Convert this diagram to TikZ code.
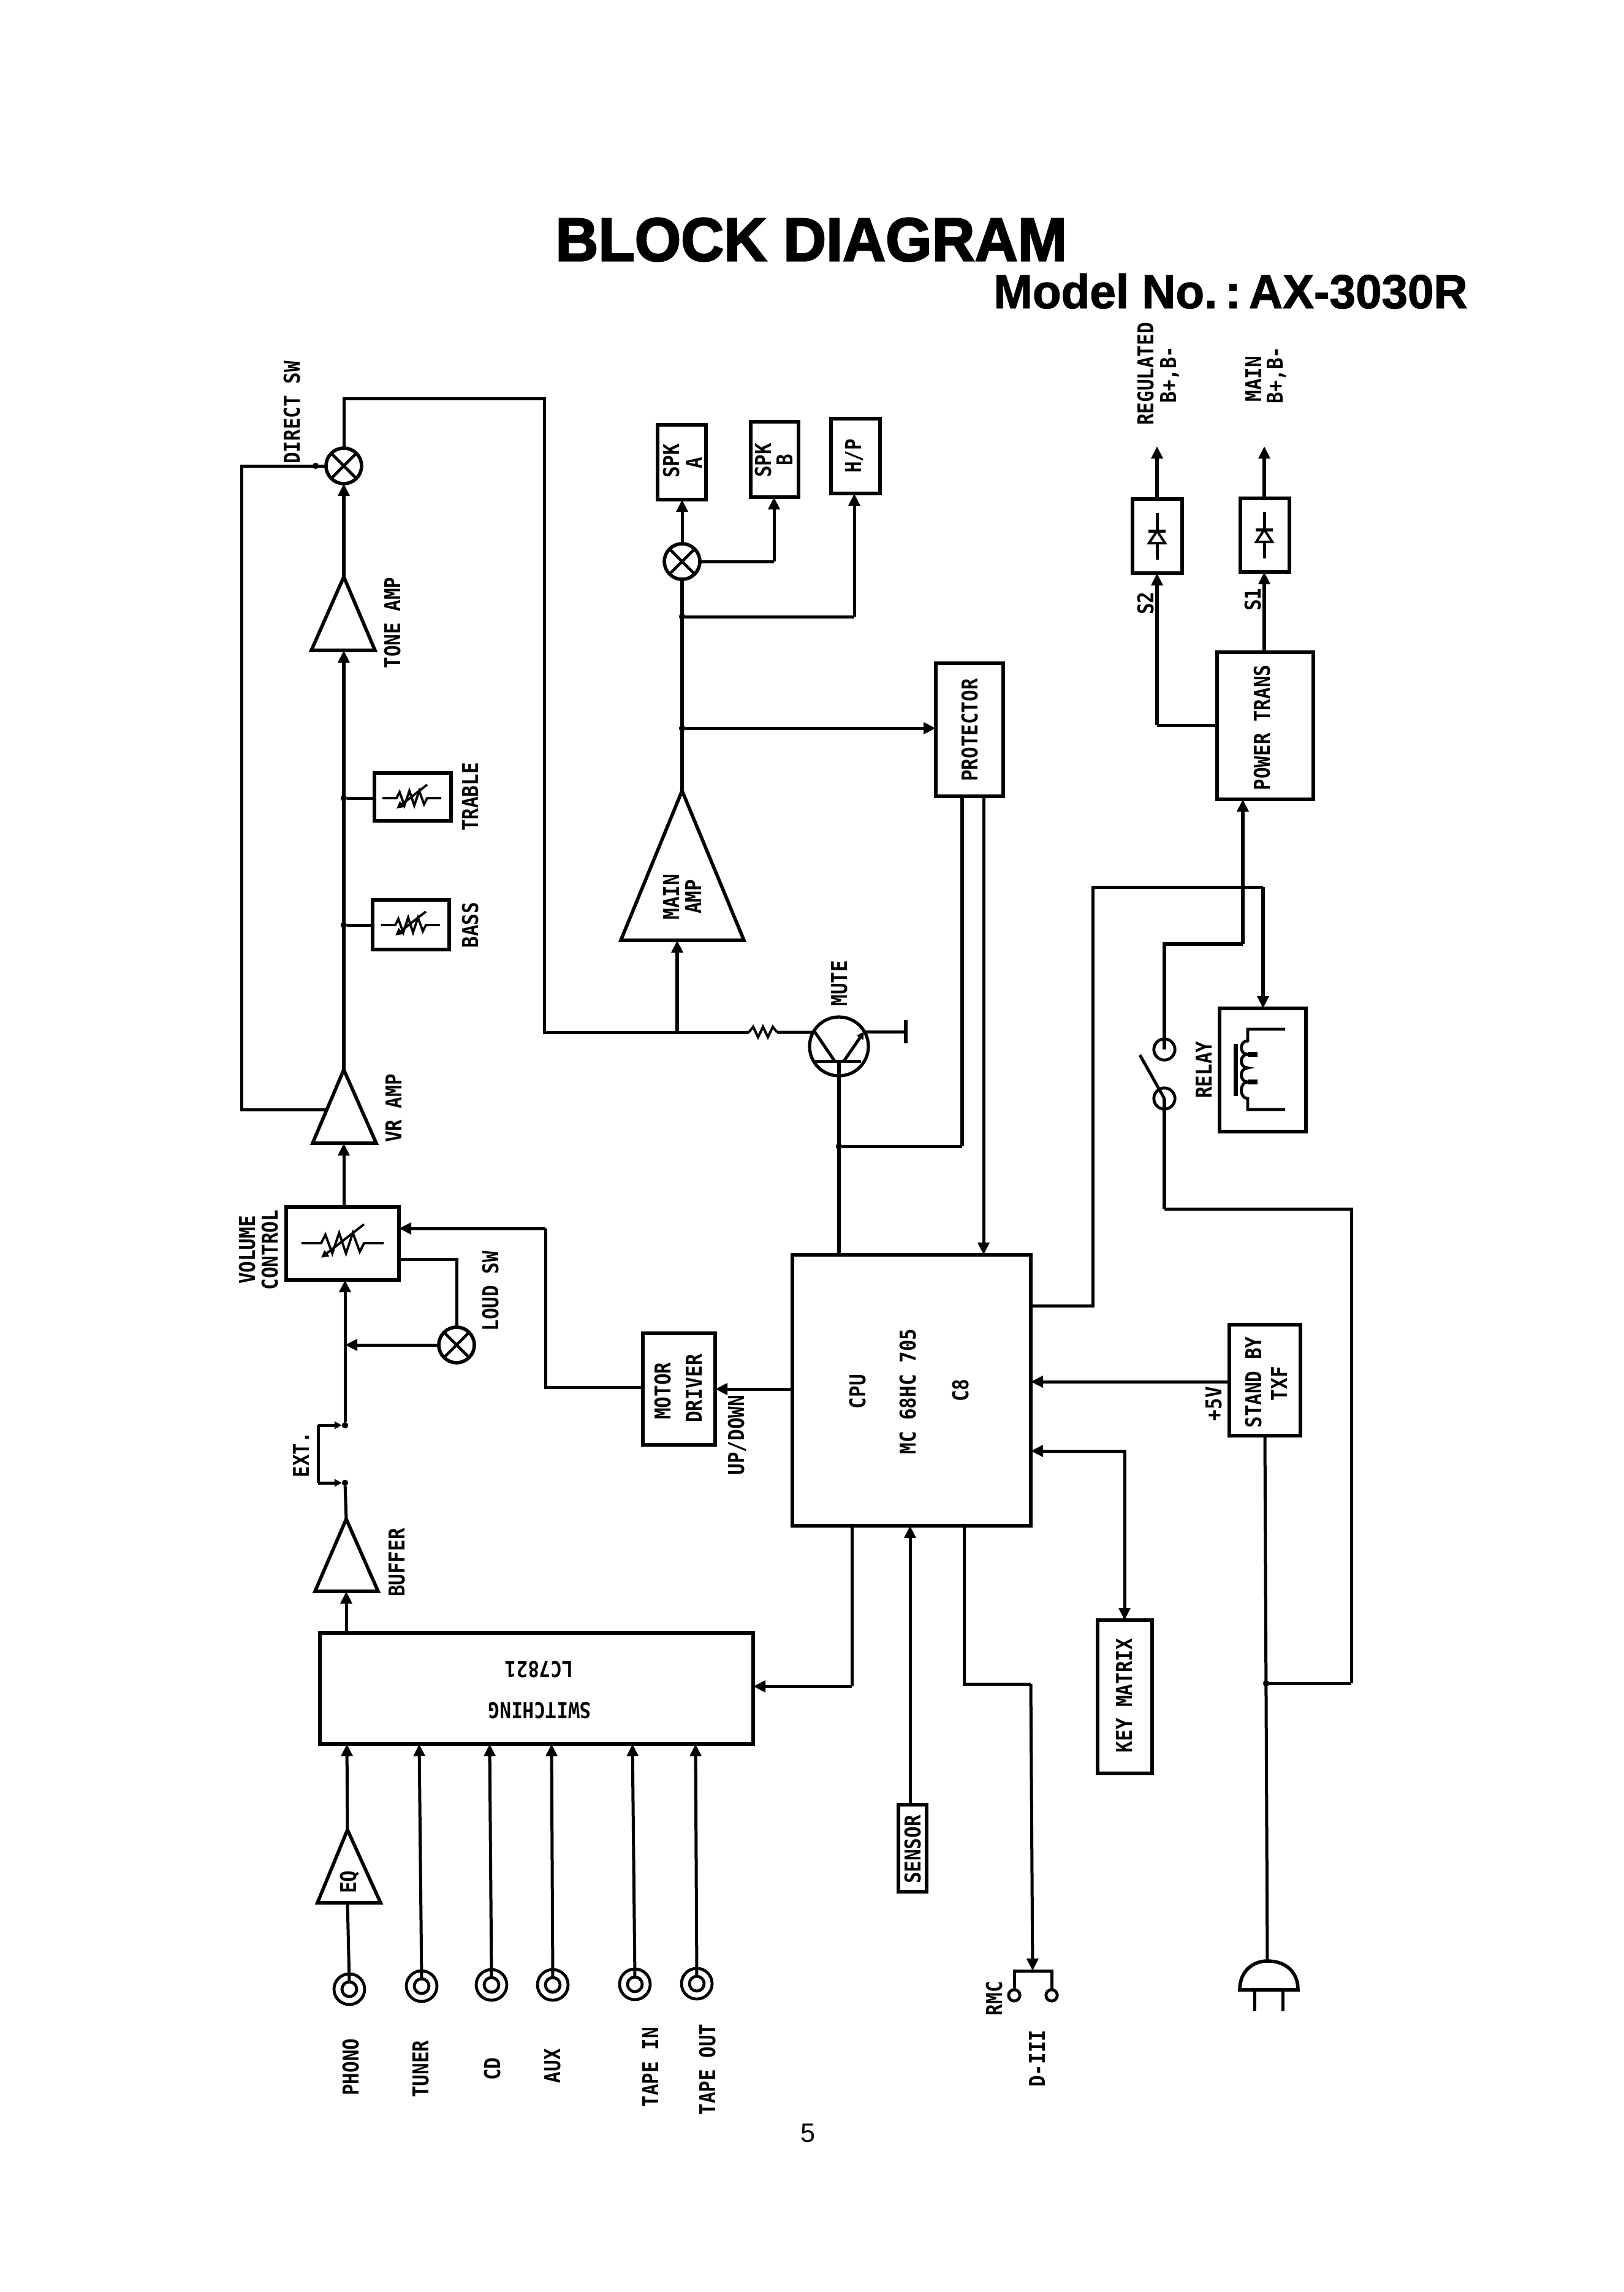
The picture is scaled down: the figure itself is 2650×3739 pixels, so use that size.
\documentclass[tikz,border=0pt]{standalone}
\usepackage{fontspec}
\usetikzlibrary{arrows.meta,fit}
\newfontfamily\plotfont[FakeStretch=0.87]{DejaVu Sans Mono}
\newfontfamily\headfont[FakeStretch=0.97,FakeBold=2.5]{Liberation Sans}
\newfontfamily\subheadfont[FakeStretch=0.98,FakeBold=1.5]{Liberation Sans}
\newfontfamily\pagefont{Liberation Sans}

% Triangular amplifier: name, apex x, apex y, base y, left x, right x
\newcommand{\ampblock}[6]{%
  \coordinate (#1-apex) at (#2,#3);
  \coordinate (#1-base) at (#2,#4);
  \draw[blk] (#1-apex) -- (#5,#4) -- (#6,#4) -- cycle;
}
% Input socket: name, x, y
\newcommand{\jackat}[3]{%
  \node[jackouter] (#1) at (#2,#3) {};
  \node[jackinner] (#1-in) at (#2,#3) {};
}

\tikzset{
  x=0.25pt, y=-0.25pt,
  blk/.style={draw, rectangle, line width=1.4pt, inner sep=0pt, outer sep=0pt, line join=miter},
  wire/.style={line width=1.25pt},
  hv/.style={line width=1.65pt},
  arr/.style={-{Triangle[length=5pt,width=4.6pt]}},
  arrs/.style={-{Triangle[length=3pt,width=3pt]}},
  both/.style={{Triangle[length=5pt,width=4.6pt]}-{Triangle[length=5pt,width=4.6pt]}},
  dot/.style={circle, fill, inner sep=0pt, outer sep=0pt, minimum size=2.6pt},
  lblbase/.style={inner sep=0pt, outer sep=0pt, text height=6.5pt, text depth=0pt,
              font=\plotfont\bfseries\fontsize{8.9}{10}\selectfont},
  lbl/.style={lblbase, rotate=90},
  lblflip/.style={lblbase, rotate=180},
  mixer/.style={circle, draw, line width=1.4pt, inner sep=0pt, outer sep=0pt, minimum size=14.5pt,
    path picture={\draw[line width=1.2pt] (path picture bounding box.center) +(-22,-22) -- +(22,22) +(-22,22) -- +(22,-22);}},
  jackouter/.style={circle, draw, line width=1.2pt, inner sep=0pt, outer sep=0pt, minimum size=12.5pt},
  jackinner/.style={circle, draw, line width=1.2pt, inner sep=0pt, outer sep=0pt, minimum size=6pt},
  contact/.style={circle, draw, line width=1.2pt, inner sep=0pt, outer sep=0pt, minimum size=8.6pt},
  rmcpin/.style={circle, draw, line width=1.2pt, inner sep=0pt, outer sep=0pt, minimum size=4.6pt},
  varres/.pic={
    \draw[line width=.95pt] (-48,0) -- (-25,0) -- (-20,-10) -- (-12,12) -- (-4,-12) -- (4,12) -- (12,-12) -- (20,10) -- (25,0) -- (48,0);
    \draw[line width=.95pt,arrs] (25,-22) -- (-25,17);
  },
  diodesym/.pic={
    \draw[line width=1.25pt] (0,-38) -- (0,-9) (-14,-9) -- (14,-9) (0,11) -- (0,38);
    \draw[line width=1pt] (0,-9) -- (-13,11) -- (13,11) -- cycle;
  }
}

\begin{document}
\begin{tikzpicture}
\useasboundingbox (0,0) rectangle (2650,3739);
\fill[white] (0,0) rectangle (2650,3739);

% Headings and page number
\node[inner sep=0pt, font=\headfont\bfseries\fontsize{25}{30}\selectfont] (title) at (1324,391) {BLOCK DIAGRAM};
\node[inner sep=0pt, font=\subheadfont\bfseries\fontsize{19.5}{24}\selectfont] (model) at (2008,475) {Model No.\,:\,AX-3030R};
\node[inner sep=0pt, font=\pagefont\fontsize{10.8}{13}\selectfont] (pageno) at (1319,3480) {5};

% Rectangular blocks
\node[blk, fit={(611,1261)(736,1339)}] (trable) {};
\node[blk, fit={(608,1468)(733,1549)}] (bass) {};
\node[blk, fit={(1073,693)(1152,815)}] (spka) {};
\node[blk, fit={(1225,688)(1303,811)}] (spkb) {};
\node[blk, fit={(1356,683)(1436,805)}] (hp) {};
\node[blk, fit={(1527,1082)(1637,1299)}] (prot) {};
\node[blk, fit={(1848,814)(1929,935)}] (dios) {};
\node[blk, fit={(2024,813)(2104,933)}] (diom) {};
\node[blk, fit={(1986,1064)(2143,1304)}] (ptrans) {};
\node[blk, fit={(1990,1645)(2131,1846)}] (relay) {};
\node[blk, fit={(467,1969)(651,2088)}] (vol) {};
\node[blk, fit={(1049,2175)(1167,2357)}] (motor) {};
\node[blk, fit={(1293,2047)(1682,2489)}] (cpu) {};
\node[blk, fit={(2006,2161)(2122,2342)}] (stby) {};
\node[blk, fit={(1791,2643)(1880,2893)}] (keym) {};
\node[blk, fit={(522,2664)(1229,2845)}] (swit) {};
\node[blk, fit={(1466,2944)(1512,3086)}] (sens) {};

% Amplifier triangles
\ampblock{toneamp}{561}{941}{1061}{508}{612}
\ampblock{mainamp}{1113}{1290}{1534}{1013}{1214}
\ampblock{vramp}{561}{1745}{1865}{510}{614}
\ampblock{buffer}{565}{2478}{2596}{514}{617}
\ampblock{eq}{567}{2985}{3104}{518}{621}

% Mixing points
\node[mixer] (m1) at (561,760) {};
\node[mixer] (m2) at (1113,916) {};
\node[mixer] (m3) at (745,2194) {};

% Symbols inside blocks
\pic at (672,1302) {varres};
\pic at (670,1509) {varres};
\pic[scale=1.4] at (559,2028) {varres};
\pic at (1888,875) {diodesym};
\pic at (2063,873) {diodesym};

% Direct switch and tone path
\node[dot] (jt) at (561,1302) {};
\node[dot] (jb) at (561,1509) {};
\node[dot] (jd) at (515,760) {};
\coordinate (fb-a) at (534,1810);
\coordinate (fb-b) at (394,1810);
\coordinate (fb-c) at (394,760);
\draw[hv,arr] (toneamp-apex) -- (m1.south);
\draw[hv,arr] (vramp-apex) -- (toneamp-base);
\draw[wire] (jt) -- (trable.west |- jt);
\draw[wire] (jb) -- (bass.west |- jb);
\draw[wire] (fb-a) -- (fb-b) -- (fb-c) -- (m1.west);

% Return line to the main amplifier and the mute transistor
\coordinate (ret-top) at (888,650);
\coordinate (ret-bot) at (888,1684);
\coordinate (res-in) at (1222,1684);
\coordinate (res-out) at (1268,1684);
\coordinate (ja) at (1105,1684);
\draw[wire] (m1.north) |- (ret-top) -- (ret-bot) -- (res-in);
\draw[line width=1pt] (res-in) -- (1229,1675) -- (1237,1692) -- (1245,1675) -- (1253,1692) -- (1261,1675) -- (res-out);
\draw[hv,arr] (ja) -- (ja |- mainamp-base);

\node[circle, draw, line width=1.3pt, inner sep=0pt, outer sep=0pt, minimum size=24pt] (q) at (1369,1707) {};
\coordinate (q-c) at (1330,1684);
\coordinate (q-e) at (1410,1683);
\coordinate (q-k1) at (1362,1731);
\coordinate (q-k2) at (1377,1731);
\coordinate (q-bl) at (1330,1731);
\coordinate (q-br) at (1405,1731);
\coordinate (q-dn) at (1369,1731);
\coordinate (gnd) at (1478,1683);
\coordinate (gnd-t) at (1478,1664);
\coordinate (gnd-b) at (1478,1702);
\draw[wire] (res-out) -- (q-c) -- (q-k1);
\draw[wire,arrs] (q-k2) -- (q-e);
\draw[wire] (q-bl) -- (q-br);
\draw[wire] (q-e) -- (gnd);
\draw[line width=1.6pt] (gnd-t) -- (gnd-b);
\draw[line width=1.4pt] (q-dn) -- (cpu.north -| q-dn);

% Output stage
\node[dot] (jp) at (1113,1188) {};
\node[dot] (jh) at (1113,1006) {};
\coordinate (hp-in) at (1394,1006);
\coordinate (spkb-in) at (1263,916);
\draw[hv] (mainamp-apex) -- (m2.south);
\draw[wire,arr] (jp) -- (prot.west |- jp);
\draw[wire] (jh) -- (hp-in);
\draw[wire,arr] (hp-in) -- (hp-in |- hp.south);
\draw[wire,arr] (m2.north) -- (m2.north |- spka.south);
\draw[wire] (m2.east) -- (spkb-in);
\draw[wire,arr] (spkb-in) -- (spkb-in |- spkb.south);

% Protector to CPU
\node[dot] (jm) at (1369,1870) {};
\coordinate (pa) at (1570,1870);
\coordinate (pb) at (1605,1870);
\draw[wire] (jm) -- (pa);
\draw[hv] (pa) -- (pa |- prot.south);
\draw[wire,arr] (pb |- prot.south) -- (pb |- cpu.north);

% Power supply
\coordinate (s2-bend) at (1888,1183);
\coordinate (reg-out) at (1888,728);
\coordinate (main-out) at (2063,728);
\draw[wire] (ptrans.west |- s2-bend) -- (s2-bend);
\draw[hv,arr] (s2-bend) -- (s2-bend |- dios.south);
\draw[hv,arr] (main-out |- ptrans.north) -- (main-out |- diom.south);
\draw[hv,arr] (reg-out |- dios.north) -- (reg-out);
\draw[hv,arr] (main-out |- diom.north) -- (main-out);

% Relay and its contacts
\node[contact] (k1) at (1900,1712) {};
\node[contact] (k2) at (1900,1792) {};
\coordinate (arm-end) at (1860,1721);
\coordinate (pwr-bend) at (2028,1540);
\coordinate (pwr-left) at (1900,1540);
\coordinate (lo-a) at (1900,1972);
\coordinate (lo-b) at (2205,1972);
\coordinate (lo-c) at (2205,2746);
\coordinate (rl-a) at (1783,2130);
\coordinate (rl-b) at (1783,1447);
\coordinate (rl-c) at (2061,1447);
\draw[hv] (k1.center) -- (pwr-left) -- (pwr-bend);
\draw[hv,arr] (pwr-bend) -- (pwr-bend |- ptrans.south);
\draw[wire] (arm-end) -- (k2.center);
\draw[hv] (k2.center) -- (lo-a);
\draw[wire] (lo-a) -- (lo-b) -- (lo-c);
\draw[wire] (cpu.east |- rl-a) -- (rl-a) -- (rl-b) -- (rl-c);
\draw[hv,arr] (rl-c) -- (rl-c |- relay.north);

\fill (2013,1703) rectangle (2020,1788);
\draw[line width=1.2pt] (2097,1679) -- (2036,1679) -- (2036,1698)
  .. controls (2022,1698) and (2022,1720) .. (2036,1720)
  .. controls (2022,1720) and (2022,1742) .. (2036,1742)
  .. controls (2022,1742) and (2022,1765) .. (2036,1765)
  .. controls (2022,1765) and (2022,1792) .. (2036,1792)
  -- (2036,1810) -- (2097,1810);
\draw[line width=2pt] (2036,1720) -- (2052,1720) (2036,1765) -- (2052,1765);

% Volume control, loudness and motor
\node[dot] (exu) at (563,2325) {};
\node[dot] (exl) at (563,2419) {};
\coordinate (exa) at (519,2325);
\coordinate (exb) at (519,2419);
\coordinate (lo-bend) at (745,2054);
\coordinate (vc-a) at (890,2004);
\coordinate (vc-b) at (890,2263);
\draw[wire,arr] (vramp-apex |- vol.north) -- (vramp-base);
\draw[wire,arr] (exu) -- (exu |- vol.south);
\draw[wire,arrs] (exa) -- (exu.west);
\draw[wire,arrs] (exb) -- (exl.west);
\draw[wire] (exa) -- (exb);
\draw[wire] (buffer-apex) -- (exl);
\draw[wire] (vol.east |- lo-bend) -- (lo-bend) -- (m3.north);
\draw[wire,arr] (m3.west) -- (exu |- m3.west);
\draw[wire,arr] (vc-a) -- (vol.east |- vc-a);
\draw[wire] (motor.west |- vc-b) -- (vc-b) -- (vc-a);
\draw[wire,arr] (cpu.west |- motor.east) -- (motor.east);
\draw[wire,arr] (swit.north -| buffer-apex) -- (buffer-base);

% CPU connections
\coordinate (sw-a) at (1390,2751);
\coordinate (rm-a) at (1573,2747);
\coordinate (rm-b) at (1682,2747);
\coordinate (rm-c) at (1685,3215);
\coordinate (km-a) at (1835,2367);
\coordinate (sn-x) at (1485,2700);
\coordinate (sb-y) at (1850,2254);
\node[dot] (jl) at (2066,2746) {};
\draw[wire] (sw-a |- cpu.south) -- (sw-a);
\draw[wire,arr] (sw-a) -- (swit.east |- sw-a);
\draw[wire] (rm-a |- cpu.south) -- (rm-a) -- (rm-b);
\draw[wire,arr] (rm-b) -- (rm-c);
\draw[wire,arr] (sn-x |- sens.north) -- (sn-x |- cpu.south);
\draw[wire,arr] (stby.west |- sb-y) -- (cpu.east |- sb-y);
\draw[wire,both] (cpu.east |- km-a) -- (km-a) -- (km-a |- keym.north);
\draw[wire] (lo-c) -- (jl);

% Input sockets
\jackat{j1}{570}{3245}
\jackat{j2}{688}{3240}
\jackat{j3}{802}{3238}
\jackat{j4}{902}{3238}
\jackat{j5}{1036}{3237}
\jackat{j6}{1137}{3236}
\coordinate (in1) at (566,2845);
\coordinate (in2) at (684,2845);
\coordinate (in3) at (799,2845);
\coordinate (in4) at (900,2845);
\coordinate (in5) at (1032,2845);
\coordinate (in6) at (1135,2845);
\draw[wire] (j1-in.north) -- (eq-base);
\draw[wire,arr] (eq-apex) -- (in1);
\draw[wire,arr] (j2-in.north) -- (in2);
\draw[wire,arr] (j3-in.north) -- (in3);
\draw[wire,arr] (j4-in.north) -- (in4);
\draw[wire,arr] (j5-in.north) -- (in5);
\draw[wire,arr] (j6-in.north) -- (in6);

% Remote control jack
\node[rmcpin] (r1) at (1655,3255) {};
\node[rmcpin] (r2) at (1716,3255) {};
\coordinate (rt-l) at (1655,3215);
\coordinate (rt-r) at (1716,3215);
\draw[wire] (r1.north) -- (rt-l) -- (rt-r) -- (r2.north);

% Mains plug
\coordinate (pl-top) at (2068,3199);
\coordinate (pl-l) at (2023,3246);
\coordinate (pl-r) at (2118,3246);
\draw[wire] (stby.south) -- (pl-top);
\draw[line width=1.4pt] (pl-l) .. controls (2023,3215) and (2045,3199) .. (pl-top)
  .. controls (2096,3199) and (2118,3215) .. (pl-r) -- cycle;
\draw[wire] (2047,3246) -- (2047,3281) (2093,3246) -- (2093,3281);

% Labels
\node[lbl] (t1) at (476,673) {DIRECT SW};
\node[lbl] (t2) at (640,1016) {TONE AMP};
\node[lbl] (t3) at (767,1300) {TRABLE};
\node[lbl] (t4) at (767,1509) {BASS};
\node[lbl] (t5) at (1095,752) {SPK};
\node[lbl] (t6) at (1132,755) {A};
\node[lbl] (t7) at (1245,751) {SPK};
\node[lbl] (t8) at (1280,750) {B};
\node[lbl] (t9) at (1392,744) {H/P};
\node[lbl] (t10) at (1095,1463) {MAIN};
\node[lbl] (t11) at (1131,1463) {AMP};
\node[lbl] (t12) at (1582,1191) {PROTECTOR};
\node[lbl] (t13) at (1869,610) {REGULATED};
\node[lbl] (t14) at (1906,611) {B+,B-};
\node[lbl] (t15) at (2045,618) {MAIN};
\node[lbl] (t16) at (2080,612) {B+,B-};
\node[lbl] (t17) at (1869,984) {S2};
\node[lbl] (t18) at (2044,978) {S1};
\node[lbl] (t19) at (2059,1187) {POWER TRANS};
\node[lbl] (t20) at (1964,1745) {RELAY};
\node[lbl] (t21) at (1369,1604) {MUTE};
\node[lbl] (t22) at (642,1808) {VR AMP};
\node[lbl] (t23) at (403,2039) {VOLUME};
\node[lbl] (t24) at (440,2039) {CONTROL};
\node[lbl] (t25) at (800,2106) {LOUD SW};
\node[lbl] (t26) at (491,2373) {EXT.};
\node[lbl] (t27) at (647,2549) {BUFFER};
\node[lbl] (t28) at (1081,2269) {MOTOR};
\node[lbl] (t29) at (1132,2265) {DRIVER};
\node[lbl] (t30) at (1201,2341) {UP/DOWN};
\node[lbl] (t31) at (1399,2270) {CPU};
\node[lbl] (t32) at (1481,2270) {MC 68HC 705};
\node[lbl] (t33) at (1567,2268) {C8};
\node[lbl] (t34) at (2045,2255) {STAND BY};
\node[lbl] (t35) at (2087,2257) {TXF};
\node[lbl] (t36) at (1980,2290) {+5V};
\node[lbl] (t37) at (1834,2766) {KEY MATRIX};
\node[lblflip] (t38) at (880,2723) {LC7821};
\node[lblflip] (t39) at (881,2790) {SWITCHING};
\node[lbl] (t40) at (1489,3017) {SENSOR};
\node[lbl] (t41) at (568,3070) {EQ};
\node[lbl] (t42) at (572,3372) {PHONO};
\node[lbl] (t43) at (686,3375) {TUNER};
\node[lbl] (t44) at (803,3375) {CD};
\node[lbl] (t45) at (901,3370) {AUX};
\node[lbl] (t46) at (1061,3372) {TAPE IN};
\node[lbl] (t47) at (1154,3376) {TAPE OUT};
\node[lbl] (t48) at (1622,3260) {RMC};
\node[lbl] (t49) at (1692,3358) {D-III};
\end{tikzpicture}
\end{document}
